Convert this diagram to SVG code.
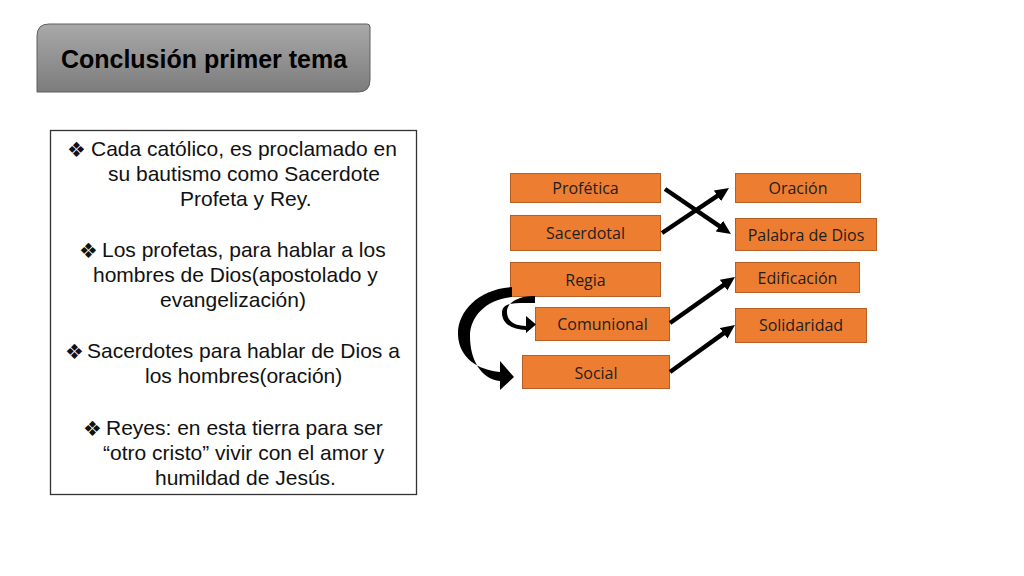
<svg xmlns="http://www.w3.org/2000/svg" width="1024" height="576" viewBox="0 0 1024 576">
  <defs>
    <linearGradient id="titleGrad" x1="0" y1="0" x2="0" y2="1">
      <stop offset="0" stop-color="#a9a9a9"/>
      <stop offset="1" stop-color="#7c7c7c"/>
    </linearGradient>
    <marker id="head" markerUnits="userSpaceOnUse" markerWidth="16" markerHeight="14" refX="4" refY="6.5" orient="auto">
      <path d="M0,0 L14,6.5 L0,13 Z" fill="#000"/>
    </marker>
    <style>
      .box { fill: #ED7D31; stroke: #B65F24; stroke-width: 1; }
      .lbl { font-family: "Open Sans", "Noto Sans", "Liberation Sans", sans-serif; font-size: 16px; fill: #1e1e1e; text-anchor: middle; }
      .txt { font-family: "Liberation Sans", Arial, sans-serif; font-size: 21px; fill: #111; }
      .bul { font-family: "DejaVu Sans", sans-serif; font-size: 21px; fill: #111; }
      .conn { stroke: #000; stroke-width: 4.5; fill: none; marker-end: url(#head); }
    </style>
  </defs>
  <rect width="1024" height="576" fill="#ffffff"/>

  <g id="title">
    <path d="M49,24 H367 Q370,24 370,27 V80 Q370,92 358,92 H37 V36 Q37,24 49,24 Z" fill="url(#titleGrad)" stroke="#5e5e5e" stroke-width="1"/>
    <text x="204" y="68" font-family="Liberation Sans, Arial, sans-serif" font-size="25" font-weight="bold" fill="#000" text-anchor="middle">Conclusión primer tema</text>
  </g>

  <g id="textbox">
    <rect x="50.5" y="130.5" width="366" height="364" fill="#fff" stroke="#333" stroke-width="1.3"/>
    <text class="bul" x="67" y="157">❖</text>
    <text class="txt" x="91" y="156">Cada católico, es proclamado en</text>
    <text class="txt" x="108" y="181">su bautismo como Sacerdote</text>
    <text class="txt" x="180" y="206">Profeta y Rey.</text>
    <text class="bul" x="79" y="258">❖</text>
    <text class="txt" x="102" y="257">Los profetas, para hablar a los</text>
    <text class="txt" x="93" y="282">hombres de Dios(apostolado y</text>
    <text class="txt" x="160" y="307">evangelización)</text>
    <text class="bul" x="65" y="359">❖</text>
    <text class="txt" x="87" y="358">Sacerdotes para hablar de Dios a</text>
    <text class="txt" x="145" y="383">los hombres(oración)</text>
    <text class="bul" x="83" y="436">❖</text>
    <text class="txt" x="106" y="435">Reyes: en esta tierra para ser</text>
    <text class="txt" x="103" y="460">“otro cristo” vivir con el amor y</text>
    <text class="txt" x="155" y="485">humildad de Jesús.</text>
  </g>

  <g id="n-profetica"><rect class="box" x="510.5" y="173.5" width="150" height="29"/><text class="lbl" x="585.5" y="194">Profética</text></g>
  <g id="n-sacerdotal"><rect class="box" x="510.5" y="215.5" width="150" height="35"/><text class="lbl" x="585.5" y="239">Sacerdotal</text></g>
  <g id="n-regia"><rect class="box" x="510.5" y="262.5" width="150" height="34"/><text class="lbl" x="585.5" y="286">Regia</text></g>
  <g id="n-comunional"><rect class="box" x="535.5" y="307.5" width="134" height="33"/><text class="lbl" x="602.5" y="330">Comunional</text></g>
  <g id="n-social"><rect class="box" x="522.5" y="355.5" width="147" height="33"/><text class="lbl" x="596" y="379">Social</text></g>
  <g id="n-oracion"><rect class="box" x="735.5" y="173.5" width="125" height="29"/><text class="lbl" x="798" y="194">Oración</text></g>
  <g id="n-palabra"><rect class="box" x="735.5" y="218.5" width="141" height="32"/><text class="lbl" x="806" y="241">Palabra de Dios</text></g>
  <g id="n-edificacion"><rect class="box" x="735.5" y="262.5" width="124" height="30"/><text class="lbl" x="797.5" y="284">Edificación</text></g>
  <g id="n-solidaridad"><rect class="box" x="735.5" y="308.5" width="131" height="34"/><text class="lbl" x="801" y="331">Solidaridad</text></g>

  <g id="connectors">
    <line class="conn" x1="665" y1="189" x2="722.7" y2="228.4"/>
    <line class="conn" x1="662" y1="233" x2="720.7" y2="193.6"/>
    <line class="conn" x1="670" y1="323" x2="726.8" y2="282.8"/>
    <line class="conn" x1="670" y1="372" x2="726.9" y2="330.9"/>
    <path d="M512,287 C478,289 457,312 458,335 C459,358 478,370 500,372 L500,361 L514,377 L500,390 L500,381 C481,379 470,360 470,336 C470,316 487,299 512,297 Z" fill="#000"/>
    <path d="M535,296 C516,296 506,304 507,313 C508,322 515,326 526,326 L526,316 L536,324.5 L526,333 L526,330 C513,330 502,324 502,313 C502,302 514,303 535,303 Z" fill="#000"/>
  </g>
</svg>
